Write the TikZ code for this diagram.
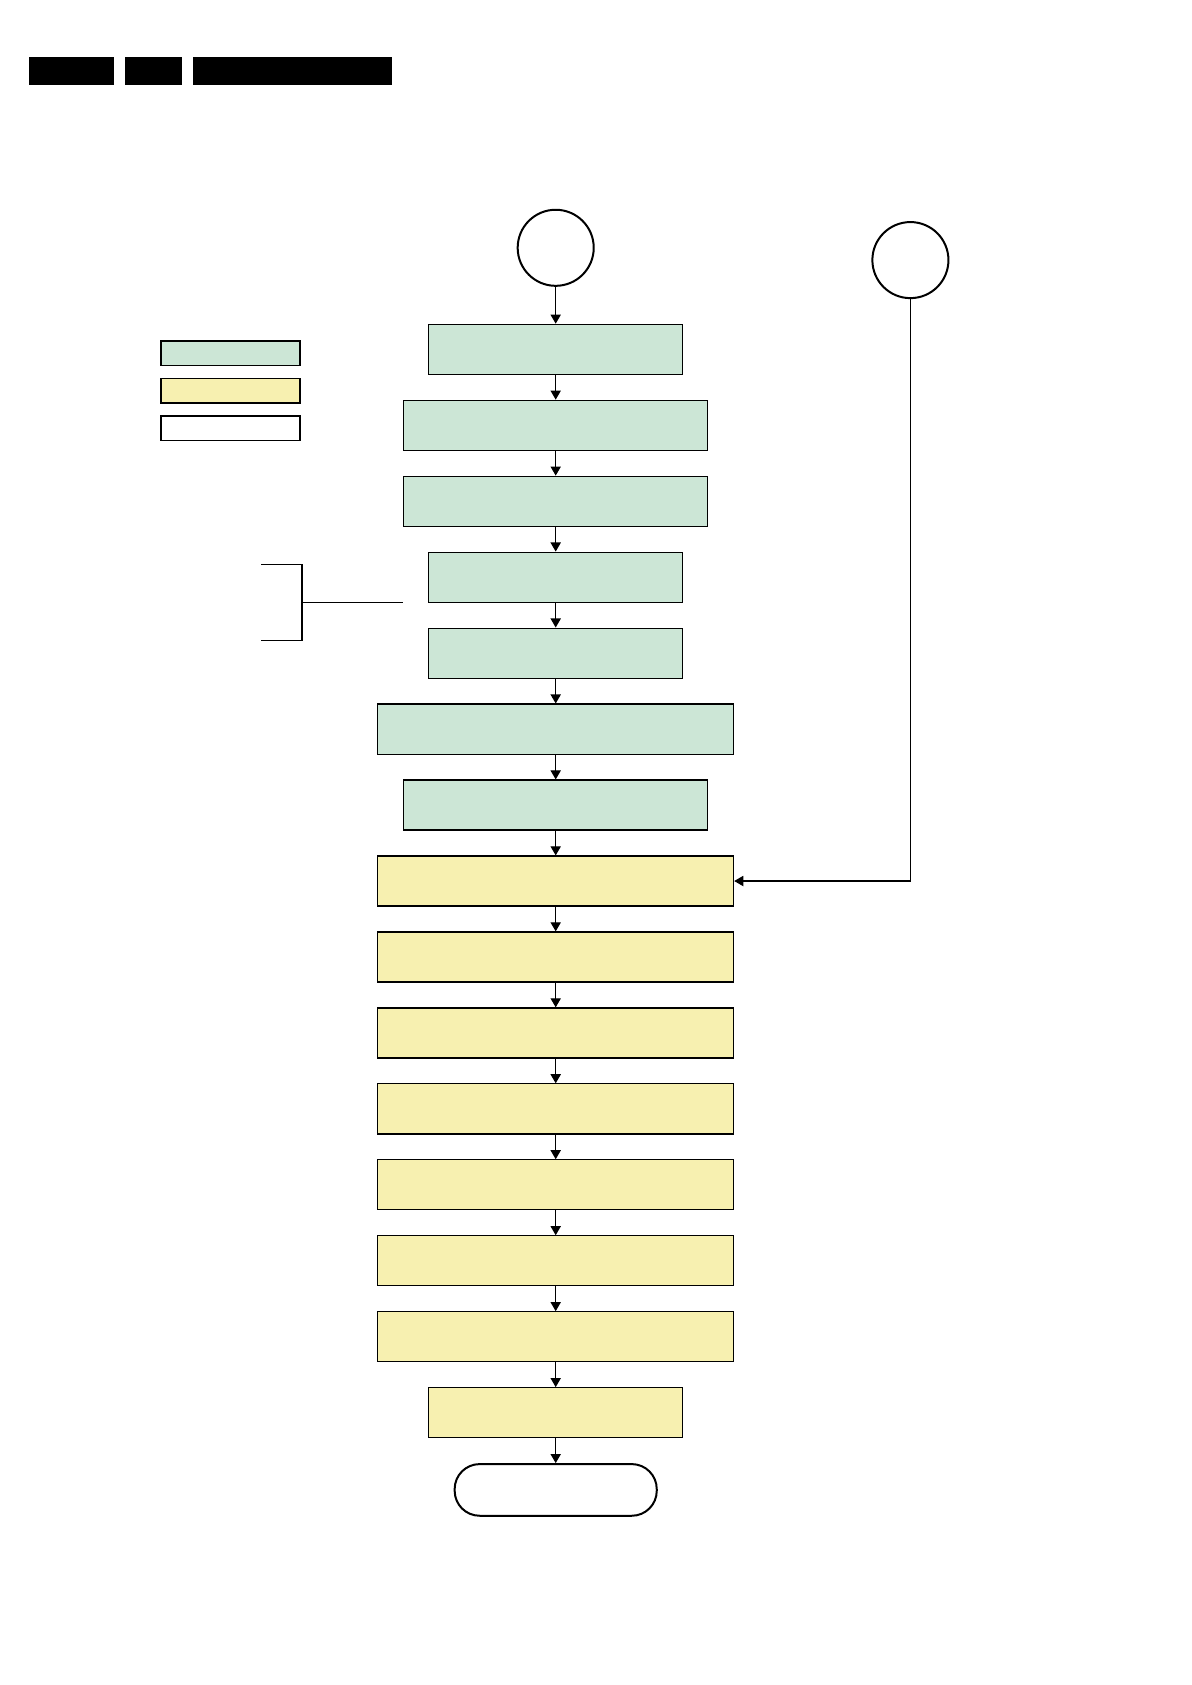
\documentclass[tikz,border=0pt]{standalone}
\usetikzlibrary{positioning,arrows.meta}
\definecolor{procgreen}{RGB}{204,230,214}
\definecolor{procyellow}{RGB}{247,240,176}
\begin{document}
\begin{tikzpicture}[x=0.17617mm,y=-0.17617mm,
  node distance=4.36mm,
  flowbox/.style={draw,line width=0.6pt,minimum height=8.81mm,inner sep=0pt},
  greenbox/.style={flowbox,fill=procgreen},
  yellowbox/.style={flowbox,fill=procyellow},
  narrow/.style={minimum width=44.69mm},
  medium/.style={minimum width=53.59mm},
  wide/.style={minimum width=62.68mm},
  terminal/.style={draw,line width=1pt,rounded corners=4.4mm,minimum width=35.6mm,minimum height=9.1mm,inner sep=0pt},
  connpoint/.style={draw,circle,line width=1pt,minimum size=13.4mm,inner sep=0pt},
  legendbox/.style={draw,line width=0.8pt,minimum width=24.43mm,minimum height=4.35mm,inner sep=0pt},
  connector/.style={-{Triangle[length=1.6mm,width=1.8mm]},line width=0.6pt}]
  % Page frame
  \useasboundingbox (0,0) rectangle (1192,1685);
  % Header bars
  \fill (29,57) rectangle (114,85);
  \fill (125,57) rectangle (182,85);
  \fill (193,57) rectangle (392,85);
  % Legend
  \node[legendbox,fill=procgreen] (leggreen) at (230.6,353.1) {};
  \node[legendbox,fill=procyellow] (legyellow) at (230.6,390.7) {};
  \node[legendbox,fill=white] (legwhite) at (230.6,428.3) {};
  % Entry points
  \node[connpoint] (entry) at (555.7,247.8) {};
  \node[connpoint] (reentry) at (910.4,260.1) {};
  % Green steps
  \node[greenbox,narrow] (b1) at (555.7,349.3) {};
  \node[greenbox,medium,below=of b1] (b2) {};
  \node[greenbox,medium,below=of b2] (b3) {};
  \node[greenbox,narrow,below=of b3] (b4) {};
  \node[greenbox,narrow,below=of b4] (b5) {};
  \node[greenbox,wide,below=of b5] (b6) {};
  \node[greenbox,medium,below=of b6] (b7) {};
  % Yellow steps
  \node[yellowbox,wide,below=of b7] (b8) {};
  \node[yellowbox,wide,below=of b8] (b9) {};
  \node[yellowbox,wide,below=of b9] (b10) {};
  \node[yellowbox,wide,below=of b10] (b11) {};
  \node[yellowbox,wide,below=of b11] (b12) {};
  \node[yellowbox,wide,below=of b12] (b13) {};
  \node[yellowbox,wide,below=of b13] (b14) {};
  \node[yellowbox,narrow,below=of b14] (b15) {};
  % End
  \node[terminal,below=of b15] (finish) {};
  % Flow arrows
  \draw[connector] (entry) -- (b1);
  \foreach \i [evaluate=\i as \j using int(\i+1)] in {1,...,14}
    \draw[connector] (b\i) -- (b\j);
  \draw[connector] (b15) -- (finish);
  \draw[connector] (reentry.south) |- (b8.east);
  % Bracket
  \coordinate (brtop) at (261,564.3);
  \coordinate (brbot) at (261,640.3);
  \coordinate (brmid) at (302,0 |- b4.south);
  \draw[line width=0.6pt] (brtop) -- (302,564.3) -- (302,640.3) -- (brbot);
  \draw[line width=0.6pt] (brmid) -- (403,0 |- b4.south);
\end{tikzpicture}
\end{document}
